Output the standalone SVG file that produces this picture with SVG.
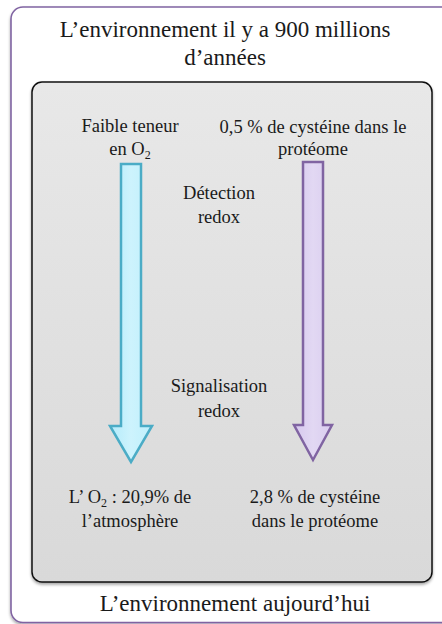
<svg xmlns="http://www.w3.org/2000/svg" width="442" height="624" viewBox="0 0 442 624">
<defs>
<linearGradient id="gInner" x1="0" y1="0" x2="0" y2="1">
<stop offset="0" stop-color="#e8e8e8"/>
<stop offset="1" stop-color="#d9d9d9"/>
</linearGradient>
<linearGradient id="gCyan" x1="0" y1="0" x2="1" y2="0">
<stop offset="0" stop-color="#b4ebfb"/>
<stop offset="0.5" stop-color="#cdf3fd"/>
<stop offset="1" stop-color="#bff0fc"/>
</linearGradient>
<linearGradient id="gPurple" x1="0" y1="0" x2="1" y2="0">
<stop offset="0" stop-color="#d6c8ee"/>
<stop offset="0.5" stop-color="#e2d8f3"/>
<stop offset="1" stop-color="#d9cdef"/>
</linearGradient>
<filter id="sh" x="-5%" y="-5%" width="110%" height="110%">
<feGaussianBlur in="SourceAlpha" stdDeviation="1.5"/>
<feOffset dx="0" dy="1.5" result="b"/>
<feComponentTransfer><feFuncA type="linear" slope="0.35"/></feComponentTransfer>
<feMerge><feMergeNode/><feMergeNode in="SourceGraphic"/></feMerge>
</filter>
</defs>
<style>
.t{font-family:"Liberation Serif","Times New Roman",serif;fill:#1a1a1a;text-anchor:middle}
.big{font-size:23px}
.body{font-size:18.5px}
.sub{font-size:12px}
</style>
<rect width="442" height="624" fill="#ffffff"/>
<g id="outer">
<rect x="11" y="7" width="460" height="615.5" rx="12" fill="#ffffff" stroke="#8064a2" stroke-width="1.6" filter="url(#sh)"/>
<text class="t big" x="225" y="37">L’environnement il y a 900 millions</text>
<text class="t big" x="225" y="65">d’années</text>
<text class="t big" x="235" y="611">L’environnement aujourd’hui</text>
</g>
<g id="inner">
<rect x="32" y="82" width="400" height="500" rx="10" fill="url(#gInner)" stroke="#111" stroke-width="1.5" filter="url(#sh)"/>
</g>
<g id="connectors">
<polygon points="121,164 141,164 141,426 152,426 131,462 110,426 121,426" fill="url(#gCyan)" stroke="#4bacc6" stroke-width="2.5" stroke-linejoin="miter"/>
<polygon points="303,162 323,162 323,425 332,425 313,460 294,425 303,425" fill="url(#gPurple)" stroke="#8064a2" stroke-width="2.5" stroke-linejoin="miter"/>
</g>
<g id="n-faible">
<text class="t body" x="130" y="132">Faible teneur</text>
<text class="t body" x="130" y="155">en O<tspan class="sub" dy="4">2</tspan></text>
</g>
<g id="n-cys05">
<text class="t body" x="313" y="133">0,5 % de cystéine dans le</text>
<text class="t body" x="313" y="155">protéome</text>
</g>
<g id="n-detection">
<text class="t body" x="219" y="199">Détection</text>
<text class="t body" x="219" y="223">redox</text>
</g>
<g id="n-signal">
<text class="t body" x="219" y="392">Signalisation</text>
<text class="t body" x="219" y="417">redox</text>
</g>
<g id="n-o2now">
<text class="t body" x="130" y="503">L’ O<tspan class="sub" dy="4">2</tspan><tspan dy="-4"> : 20,9% de</tspan></text>
<text class="t body" x="130" y="527">l’atmosphère</text>
</g>
<g id="n-cys28">
<text class="t body" x="315" y="503">2,8 % de cystéine</text>
<text class="t body" x="315" y="527">dans le protéome</text>
</g>
</svg>
